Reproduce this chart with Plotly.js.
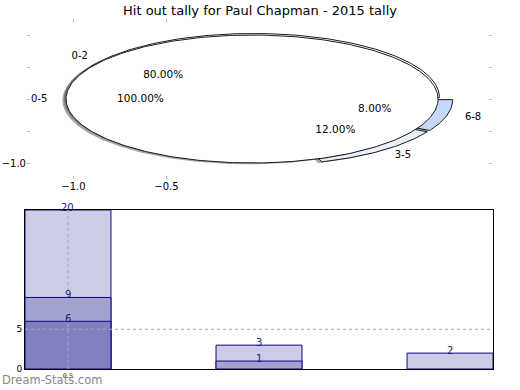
<!DOCTYPE html>
<html>
<head>
<meta charset="utf-8">
<script src="https://cdn.plot.ly/plotly-3.0.1.min.js"></script>
<style>html,body{margin:0;padding:0;background:#fff;}#chart{width:520px;height:390px;}</style>
</head>
<body>
<div id="chart"></div>
<script>
// ---- data ----
const titleText = 'Hit out tally for Paul Chapman - 2015 tally';
const outerLabels = ['0-5'];
const outerValues = [25];
const innerLabels = ['0-2', '3-5', '6-8'];
const innerValues = [20, 3, 2];
const innerColors = ['#ffffff', '#e9f0fc', '#c6d9fa'];
const outerColors = ['#ffffff'];
const explode = 0.04;

const barX = [0.5, 1.5, 2.5];
const barTickLabels = ['0.5'];
const seriesLight = [20, 3, 2];
const seriesMid = [9, 1, null];
const seriesDark = [6, null, null];
const gridX = [0.5];
const gridY = [5];

// ---- pie geometry helpers (drawn on cartesian axes, like the original) ----
const FONT = 'DejaVu Sans, Verdana, sans-serif';
const traces = [];
const labelTexts = {x: [], y: [], text: [], pos: []};
const pctTexts = {x: [], y: [], text: []};

function addPie(labels, values, colors) {
  const total = values.reduce((a, b) => a + b, 0);
  let cum = 0;
  labels.forEach((lab, i) => {
    const frac = values[i] / total;
    const t1 = 2 * Math.PI * cum;
    const t2 = 2 * Math.PI * (cum + frac);
    cum += frac;
    const tm = (t1 + t2) / 2;
    const cx = explode * Math.cos(tm), cy = explode * Math.sin(tm);
    const full = frac >= 0.9999;
    const xs = [], ys = [];
    if (!full) { xs.push(cx); ys.push(cy); }
    const n = Math.max(8, Math.ceil(frac * 360));
    for (let k = 0; k <= n; k++) {
      const t = t1 + (t2 - t1) * k / n;
      xs.push(cx + Math.cos(t)); ys.push(cy + Math.sin(t));
    }
    if (!full) { xs.push(cx); ys.push(cy); }
    // shadow
    traces.push({
      type: 'scatter', mode: 'lines', x: xs.map(v => v - 0.02), y: ys.map(v => v - 0.02),
      fill: 'toself', fillcolor: 'rgba(77,77,77,0.5)', line: {width: 0},
      xaxis: 'x', yaxis: 'y', hoverinfo: 'skip', showlegend: false
    });
    traces.push({
      type: 'scatter', mode: 'lines', x: xs, y: ys,
      fill: 'toself', fillcolor: colors[i], line: {color: '#1a1a1a', width: 1},
      xaxis: 'x', yaxis: 'y', hoverinfo: 'skip', showlegend: false
    });
    const dx = Math.cos(tm), dy = Math.sin(tm);
    labelTexts.x.push((explode + 1.1) * dx);
    labelTexts.y.push((explode + 1.1) * dy);
    labelTexts.text.push(lab);
    labelTexts.pos.push(dx < 0 ? 'middle left' : 'middle right');
    pctTexts.x.push((explode + 0.6) * dx);
    pctTexts.y.push((explode + 0.6) * dy);
    pctTexts.text.push((frac * 100).toFixed(2) + '%');
  });
}
addPie(innerLabels, innerValues, innerColors);
addPie(outerLabels, outerValues, outerColors);

traces.push({
  type: 'scatter', mode: 'text', x: labelTexts.x, y: labelTexts.y, text: labelTexts.text,
  textposition: labelTexts.pos, textfont: {family: FONT, size: 10, color: '#000'},
  xaxis: 'x', yaxis: 'y', hoverinfo: 'skip', showlegend: false, cliponaxis: false
});
traces.push({
  type: 'scatter', mode: 'text', x: pctTexts.x, y: pctTexts.y, text: pctTexts.text,
  textposition: 'middle center', textfont: {family: FONT, size: 10.5, color: '#000'},
  xaxis: 'x', yaxis: 'y', hoverinfo: 'skip', showlegend: false, cliponaxis: false
});

// ---- bars ----
const barSeries = [
  {vals: seriesLight, color: '#ccccE6'},
  {vals: seriesMid, color: '#a3a3d2'},
  {vals: seriesDark, color: '#8080c0'}
];
const barAnnotations = [];
barSeries.forEach(s => {
  traces.push({
    type: 'bar', x: barX, y: s.vals, width: 0.45,
    marker: {color: s.color, line: {color: '#0a0a80', width: 1}},
    xaxis: 'x2', yaxis: 'y2', hoverinfo: 'skip', showlegend: false
  });
  s.vals.forEach((v, i) => {
    if (v == null) return;
    barAnnotations.push({
      text: String(v), xref: 'x2', yref: 'y2', x: barX[i], y: v,
      xanchor: 'center', yanchor: 'middle', yshift: 3, showarrow: false,
      font: {family: FONT, size: 10, color: '#1c1c80'}
    });
  });
});

const gridShapes = [];
gridX.forEach(gx => gridShapes.push({
  type: 'line', xref: 'x2', yref: 'y2 domain', x0: gx, x1: gx, y0: 0, y1: 1,
  line: {color: '#a8a8a8', width: 1.2, dash: 'dot'}, layer: 'above'
}));
gridY.forEach(gy => gridShapes.push({
  type: 'line', xref: 'x2 domain', yref: 'y2', x0: 0, x1: 1, y0: gy, y1: gy,
  line: {color: '#a8a8a8', width: 1.2, dash: 'dot'}, layer: 'above'
}));

const H = 390, W = 520;
const layout = {
  width: W, height: H,
  margin: {l: 0, r: 0, t: 0, b: 0},
  paper_bgcolor: '#fff', plot_bgcolor: 'rgba(0,0,0,0)',
  showlegend: false,
  barmode: 'overlay',
  font: {family: FONT, color: '#000'},
  title: {text: titleText, x: 0.5, xanchor: 'center', y: 1 - 10 / H, yanchor: 'middle',
          font: {family: FONT, size: 13, color: '#000'}},
  xaxis: {
    domain: [27 / W, 492 / W], range: [-1.25, 1.25], anchor: 'y',
    showgrid: false, zeroline: false, showline: false,
    tickvals: [-1, -0.5], ticktext: ['−1.0', '−0.5'],
    ticks: 'inside', ticklen: 3, tickcolor: '#b8b8b8', mirror: 'ticks',
    tickfont: {family: FONT, size: 10, color: '#000'}, fixedrange: true
  },
  yaxis: {
    domain: [1 - 179 / H, 1 - 19 / H], range: [-1.25, 1.25], anchor: 'x',
    showgrid: false, zeroline: false, showline: false,
    tickvals: [-1, -0.5, 0, 0.5, 1], ticktext: ['−1.0', '', '', '', ''],
    ticks: 'inside', ticklen: 3, tickcolor: '#b8b8b8', mirror: 'ticks',
    tickfont: {family: FONT, size: 10, color: '#000'}, fixedrange: true
  },
  xaxis2: {
    domain: [25 / W, 493 / W], range: [0.275, 2.725], anchor: 'y2',
    showgrid: false, zeroline: false, showline: true, linecolor: '#000', linewidth: 1, mirror: true,
    layer: 'above traces',
    tickvals: [0.5], ticktext: barTickLabels, ticks: '',
    tickfont: {family: FONT, size: 6.5, color: '#333'}, fixedrange: true
  },
  yaxis2: {
    domain: [1 - 369 / H, 1 - 210 / H], range: [0, 20], anchor: 'x2',
    showgrid: false, zeroline: false, showline: true, linecolor: '#000', linewidth: 1, mirror: true,
    layer: 'above traces',
    tickvals: [0, 5], ticktext: ['0', '5'], ticks: '',
    tickfont: {family: FONT, size: 9, color: '#000'}, fixedrange: true
  },
  shapes: gridShapes,
  annotations: barAnnotations.concat([{
    text: 'Dream-Stats.com', xref: 'paper', yref: 'paper', x: 0, y: 1 - 380 / H,
    xanchor: 'left', yanchor: 'middle', showarrow: false,
    font: {family: FONT, size: 11.5, color: '#888888'}
  }])
};

Plotly.newPlot('chart', traces, layout, {staticPlot: true, displayModeBar: false});
</script>
</body>
</html>
